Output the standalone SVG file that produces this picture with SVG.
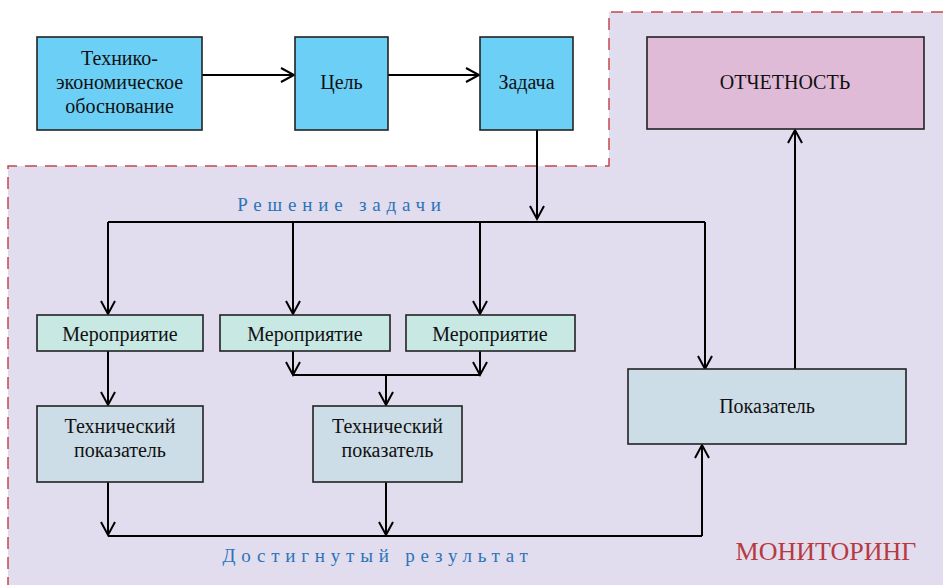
<svg xmlns="http://www.w3.org/2000/svg" width="943" height="585" viewBox="0 0 943 585">
<defs>
<marker id="arr" markerUnits="userSpaceOnUse" markerWidth="30" markerHeight="30" viewBox="-15 -15 30 30" refX="0" refY="0" orient="auto">
<path d="M-13,-7 L0,0 L-13,7" fill="none" stroke="#000" stroke-width="2"/>
</marker>
<style>
.t{font-family:"Liberation Serif","Times New Roman",serif;font-size:20px;fill:#111;text-anchor:middle}
.box{stroke:#222;stroke-width:1.6}
.blue{fill:#6ccff6}
.mint{fill:#c7e8e3}
.tp{fill:#cddde8}
.pink{fill:#dfbbd8}
.lbl{font-family:"Liberation Serif","Times New Roman",serif;font-size:19px;fill:#2d73b8;text-anchor:middle}
.ln{fill:none;stroke:#000;stroke-width:2}
.ar{fill:none;stroke:#000;stroke-width:2;marker-end:url(#arr)}
</style>
</defs>
<rect width="943" height="585" fill="#fff"/>
<g id="monitoring-area">
<path d="M609,12 H943 V585 H8 V166 H609 Z" fill="#e1ddef"/>
<path d="M943,12 H609 V166 H8 V585" fill="none" stroke="#c4474f" stroke-width="1.5" stroke-dasharray="12 8"/>
<text x="826" y="560" style="font-family:'Liberation Serif','Times New Roman',serif;font-size:26px;fill:#b83a3e;text-anchor:middle">МОНИТОРИНГ</text>
</g>
<g id="connectors">
<path class="ar" d="M202,75 H294"/>
<path class="ar" d="M388,75 H479"/>
<path class="ar" d="M537,130 V219"/>
<path class="ln" d="M108,222 H705"/>
<path class="ar" d="M108,222 V314"/>
<path class="ar" d="M293,222 V314"/>
<path class="ar" d="M480,222 V314"/>
<path class="ar" d="M705,222 V369"/>
<path class="ar" d="M108,351 V405"/>
<path class="ar" d="M293,351 V375"/>
<path class="ar" d="M480,351 V375"/>
<path class="ln" d="M293,375 H480"/>
<path class="ar" d="M386,375 V405"/>
<path class="ar" d="M108,482 V535"/>
<path class="ar" d="M386,482 V535"/>
<path class="ln" d="M108,536 H702"/>
<path class="ar" d="M702,536 V445"/>
<path class="ar" d="M795,370 V130"/>
<text class="lbl" x="342" y="211" letter-spacing="5.8">Решение задачи</text>
<text class="lbl" x="378" y="562" letter-spacing="5.8">Достигнутый результат</text>
</g>
<g id="n-teo">
<rect class="box blue" x="37" y="37" width="165" height="93"/>
<text class="t" x="119.5" y="65">Технико-</text>
<text class="t" x="119.5" y="89">экономическое</text>
<text class="t" x="119.5" y="113">обоснование</text>
</g>
<g id="n-goal">
<rect class="box blue" x="295" y="37" width="93" height="93"/>
<text class="t" x="341.5" y="89">Цель</text>
</g>
<g id="n-task">
<rect class="box blue" x="480" y="37" width="93" height="93"/>
<text class="t" x="526.5" y="89">Задача</text>
</g>
<g id="n-report">
<rect class="box pink" x="647" y="37" width="277" height="92"/>
<text class="t" x="785" y="89">ОТЧЕТНОСТЬ</text>
</g>
<g id="n-event1">
<rect class="box mint" x="37" y="315" width="166" height="36"/>
<text class="t" x="120" y="341">Мероприятие</text>
</g>
<g id="n-event2">
<rect class="box mint" x="220" y="315" width="170" height="36"/>
<text class="t" x="305" y="341">Мероприятие</text>
</g>
<g id="n-event3">
<rect class="box mint" x="406" y="315" width="169" height="36"/>
<text class="t" x="490" y="341">Мероприятие</text>
</g>
<g id="n-tech1">
<rect class="box tp" x="37" y="406" width="166" height="76"/>
<text class="t" x="120" y="433">Технический</text>
<text class="t" x="120" y="457">показатель</text>
</g>
<g id="n-tech2">
<rect class="box tp" x="313" y="406" width="149" height="76"/>
<text class="t" x="387.5" y="433">Технический</text>
<text class="t" x="387.5" y="457">показатель</text>
</g>
<g id="n-indicator">
<rect class="box tp" x="628" y="369" width="278" height="75"/>
<text class="t" x="767" y="413">Показатель</text>
</g>
</svg>
